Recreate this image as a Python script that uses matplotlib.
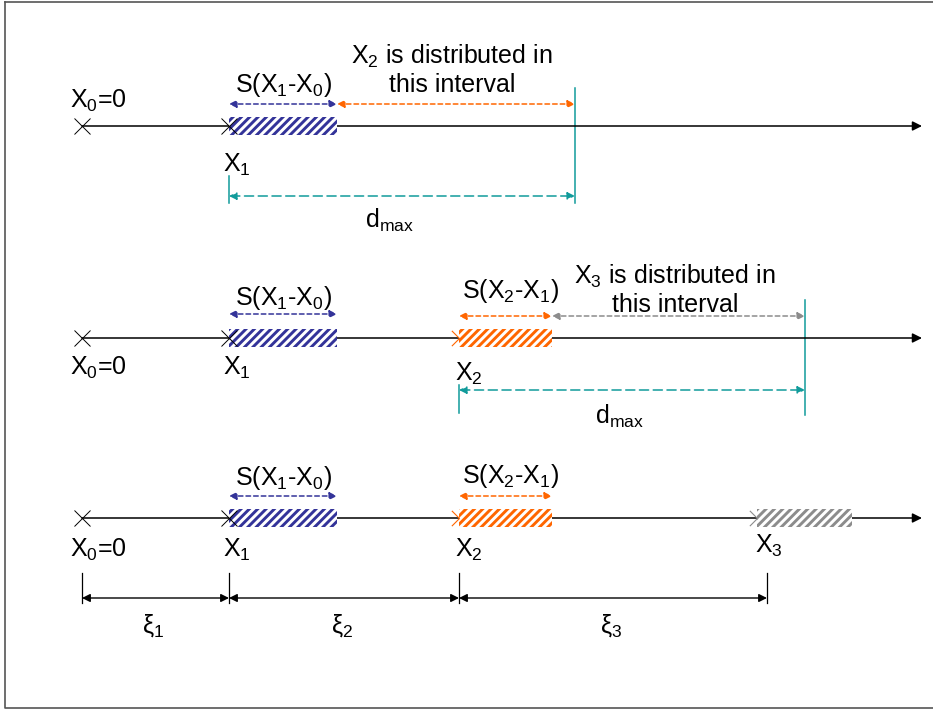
import matplotlib.pyplot as plt
from matplotlib.patches import Rectangle
from matplotlib.path import Path

plt.rcParams['font.family'] = ['Liberation Sans', 'DejaVu Sans']
plt.rcParams['mathtext.default'] = 'regular'
plt.rcParams['hatch.linewidth'] = 2.1

# positions along the line, measured from X0
points = [0, 147, 377, 675]
point_names = ['X$_0$=0', 'X$_1$', 'X$_2$', 'X$_3$']
spans = [108, 93, 95]          # S(X1-X0), S(X2-X1), S(X3-X2)
span_labels = ['S(X$_1$-X$_0$)', 'S(X$_2$-X$_1$)']
d_max = 346
xi_bounds = [0, 147, 377, 685]
xi_labels = ['ξ$_1$', 'ξ$_2$', 'ξ$_3$']
line_end = 840

blue = '#333399'
orange = '#ff6600'
grey = '#8c8c8c'
teal = '#119b9b'
fs = 18

fig = plt.figure(figsize=(9.33, 7.11), dpi=100)
ax = fig.add_axes([0, 0, 1, 1])
ax.set_xlim(-82, 851)
ax.set_ylim(711, 0)
ax.axis('off')

# frame
ax.plot([-77, -77, 860], [2, 708, 708], color='#555555', lw=1.2)
ax.plot([-77, 860], [2, 2], color='#555555', lw=1.2)

half_x = Path([(-1, 1), (0, 0), (-1, -1)], [Path.MOVETO, Path.LINETO, Path.LINETO])


def axis_line(y):
    ax.annotate('', xy=(line_end, y), xytext=(points[0], y),
                arrowprops=dict(arrowstyle='-|>', color='black', lw=1.1,
                                shrinkA=0, shrinkB=0, mutation_scale=14))


def box(x, w, y, color):
    ax.add_patch(Rectangle((x, y - 9), w, 18, facecolor='white', edgecolor=color,
                           hatch='////', lw=0, zorder=3))


def darrow(x0, x1, y, color, dash=(0, (3, 2)), style='<|-|>'):
    ax.annotate('', xy=(x1, y), xytext=(x0, y),
                arrowprops=dict(arrowstyle=style, color=color, lw=1.1, linestyle=dash,
                                shrinkA=0, shrinkB=0, mutation_scale=11))


def cross(x, y):
    ax.plot(x, y, marker='x', color='black', ms=11, mew=0.7, zorder=4)


def half(x, y, color):
    ax.plot(x, y, marker=half_x, color=color, ms=11, mew=0.8, mfc='none',
            fillstyle='none', zorder=4)


def txt(x, y, s, ha='center'):
    ax.text(x, y, s, fontsize=fs, ha=ha, va='baseline')


# ---------- row 1 ----------
y1 = 126
axis_line(y1)
box(points[1], spans[0], y1, blue)
cross(points[0], y1)
cross(points[1], y1)
txt(points[0] - 12, 108, point_names[0], ha='left')
txt(points[1] - 6, 172, point_names[1], ha='left')
txt(points[1] + spans[0] / 2, 92, span_labels[0])
darrow(points[1], points[1] + spans[0], 104, blue)
darrow(points[1] + spans[0], points[1] + d_max, 104, orange)
txt(370, 64, 'X$_2$ is distributed in')
txt(370, 92, 'this interval')
ax.plot([points[1] + d_max] * 2, [88, 203], color=teal, lw=1.1)
ax.plot([points[1]] * 2, [176, 203], color=teal, lw=1.1)
darrow(points[1], points[1] + d_max, 196, teal, dash=(0, (6, 3)))
txt(308, 228, 'd$_{max}$')

# ---------- row 2 ----------
y2 = 338
axis_line(y2)
box(points[1], spans[0], y2, blue)
box(points[2], spans[1], y2, orange)
cross(points[0], y2)
cross(points[1], y2)
half(points[2], y2, orange)
txt(points[0] - 12, 375, point_names[0], ha='left')
txt(points[1] - 6, 375, point_names[1], ha='left')
txt(points[2] - 4, 381, point_names[2], ha='left')
txt(points[1] + spans[0] / 2, 305, span_labels[0])
darrow(points[1], points[1] + spans[0], 314, blue)
txt(points[2] + spans[1] / 2 + 5, 298, span_labels[1])
darrow(points[2], points[2] + spans[1], 316, orange)
darrow(points[2] + spans[1], points[2] + d_max, 316, grey)
txt(593, 284, 'X$_3$ is distributed in')
txt(593, 312, 'this interval')
ax.plot([points[2] + d_max] * 2, [300, 415], color=teal, lw=1.1)
ax.plot([points[2]] * 2, [385, 413], color=teal, lw=1.1)
darrow(points[2], points[2] + d_max, 390, teal, dash=(0, (6, 3)))
txt(538, 424, 'd$_{max}$')

# ---------- row 3 ----------
y3 = 518
axis_line(y3)
box(points[1], spans[0], y3, blue)
box(points[2], spans[1], y3, orange)
box(points[3], spans[2], y3, grey)
cross(points[0], y3)
cross(points[1], y3)
half(points[2], y3, orange)
half(points[3], y3, grey)
txt(points[0] - 12, 557, point_names[0], ha='left')
txt(points[1] - 6, 557, point_names[1], ha='left')
txt(points[2] - 4, 557, point_names[2], ha='left')
txt(points[3] - 2, 553, point_names[3], ha='left')
txt(points[1] + spans[0] / 2, 485, span_labels[0])
darrow(points[1], points[1] + spans[0], 496, blue)
txt(points[2] + spans[1] / 2 + 5, 483, span_labels[1])
darrow(points[2], points[2] + spans[1], 496, orange)

for xb in xi_bounds:
    ax.plot([xb, xb], [573, 603], color='black', lw=0.9)
for i in range(3):
    ax.annotate('', xy=(xi_bounds[i + 1], 598), xytext=(xi_bounds[i], 598),
                arrowprops=dict(arrowstyle='<|-|>', color='black', lw=1.0,
                                shrinkA=0, shrinkB=0, mutation_scale=12))
    txt((xi_bounds[i] + xi_bounds[i + 1]) / 2 - 2, 633, xi_labels[i])

fig.savefig('out.png', dpi=100)
